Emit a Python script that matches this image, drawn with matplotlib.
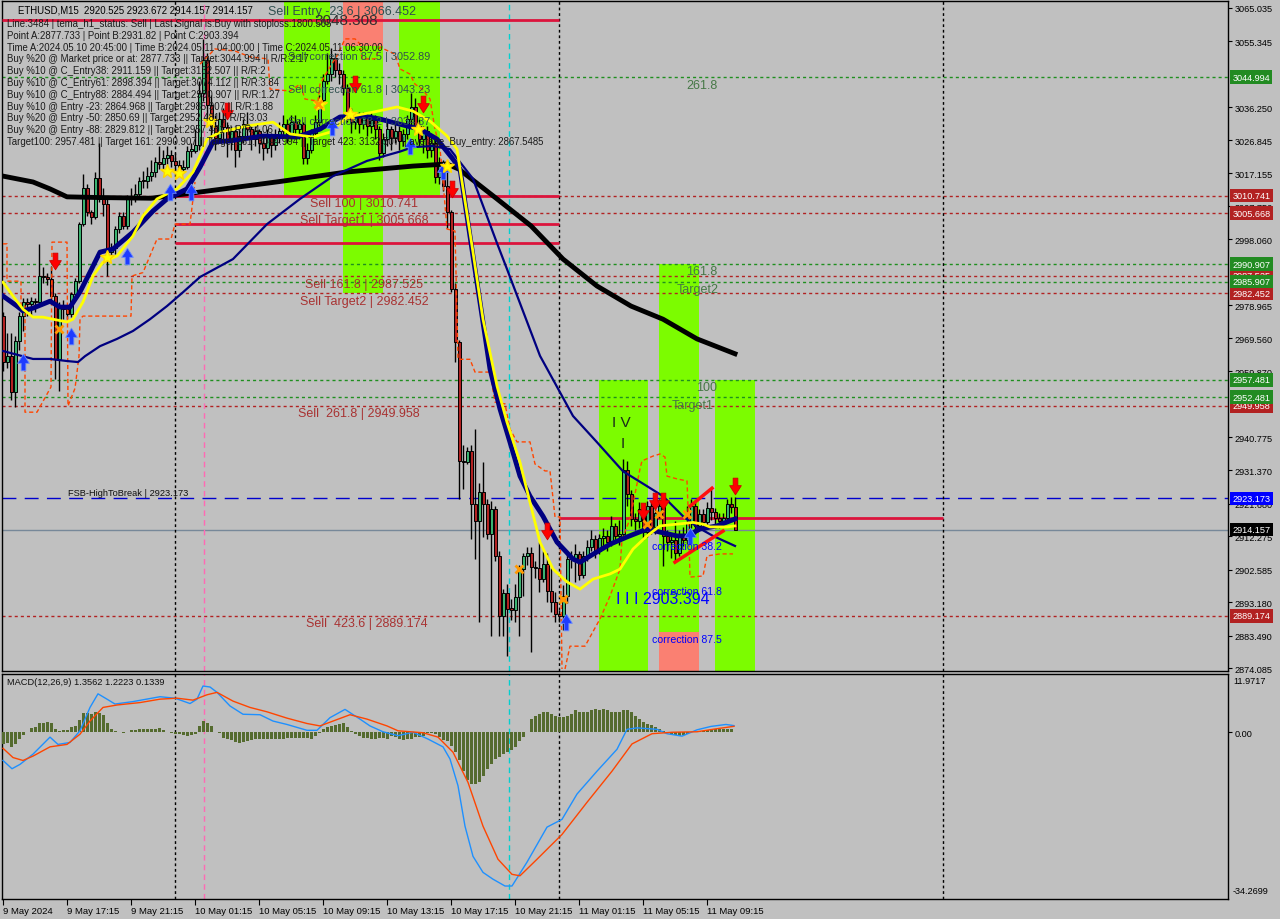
import numpy as np
import matplotlib.pyplot as plt
from matplotlib.path import Path
from matplotlib.transforms import blended_transform_factory

plt.rcParams['font.family'] = ['Liberation Sans', 'DejaVu Sans']

# ETHUSD M15 candles, bar 0 = 9 May 2024 13:15 (open of a bar = close of the one before)
first_open = 2976.0
close = [2962.5, 2964.4, 2953.8, 2968.8, 2976.0, 2979.9, 2979.5, 2980.3, 2980.0, 2987.6,
         2987.1, 2986.6, 2981.8, 2963.5, 2978.9, 2977.9, 2976.5, 2982.3, 2986.1, 3002.5,
         3013.1, 3005.9, 3004.5, 3015.8, 3009.8, 3008.3, 2994.3, 2995.5, 3001.1, 3004.9,
         3002.0, 3010.3, 3010.0, 3011.2, 3015.1, 3015.0, 3016.5, 3017.5, 3020.4, 3019.9,
         3021.5, 3022.5, 3020.9, 3019.5, 3018.5, 3019.0, 3023.8, 3023.8, 3025.5, 3040.5,
         3050.0, 3037.0, 3031.0, 3027.5, 3033.0, 3030.5, 3027.0, 3029.5, 3024.0, 3028.0,
         3031.5, 3030.0, 3027.0, 3029.5, 3026.0, 3024.5, 3028.5, 3025.5, 3027.5, 3029.5,
         3031.5, 3028.5, 3032.0, 3030.0, 3031.5, 3021.5, 3024.0, 3029.0, 3032.0, 3038.5,
         3044.0, 3046.0, 3050.5, 3047.0, 3046.0, 3042.0, 3034.5, 3032.0, 3034.0, 3031.5,
         3033.5, 3031.0, 3032.5, 3030.0, 3023.0, 3027.0, 3030.0, 3027.5, 3029.5, 3026.5,
         3028.5, 3033.0, 3036.5, 3031.0, 3027.0, 3029.5, 3024.0, 3026.0, 3016.0, 3020.0,
         3013.6, 3006.0, 2983.7, 2968.3, 2934.0, 2933.6, 2936.9, 2921.5, 2916.7, 2924.9,
         2921.5, 2912.8, 2920.1, 2906.6, 2889.2, 2895.9, 2891.1, 2891.0, 2894.5, 2902.7,
         2906.6, 2907.5, 2903.2, 2903.0, 2899.8, 2904.2, 2896.5, 2893.1, 2889.7, 2889.0,
         2895.0, 2905.6, 2905.6, 2907.0, 2901.0, 2906.6, 2909.0, 2911.4, 2908.0, 2911.8,
         2912.3, 2910.5, 2915.3, 2912.4, 2913.0, 2931.5, 2924.4, 2917.2, 2916.7, 2920.1,
         2913.3, 2921.0, 2915.0, 2919.0, 2921.0, 2912.4, 2910.5, 2911.0, 2907.5, 2912.3,
         2911.0, 2916.2, 2921.0, 2915.2, 2918.6, 2916.2, 2920.5, 2919.1, 2917.5, 2916.7,
         2917.5, 2921.5, 2920.525, 2914.157]
high = [2977, 2971, 2971, 2970, 2977, 2981, 2981, 2981.5, 2981, 2996.7,
        2990, 2988.5, 2990.5, 2982.5, 2980, 2980.5, 2978.5, 2983, 2987, 3003,
        3017, 3014, 3006.5, 3017.5, 3026, 3013, 3010, 2997, 3002, 3006,
        3006, 3011, 3013, 3014, 3016, 3018, 3019, 3021, 3022, 3025,
        3024, 3025, 3024, 3023, 3021, 3021, 3025, 3026, 3030, 3044,
        3056, 3052, 3040, 3034, 3035, 3036, 3032, 3031, 3031, 3030,
        3033, 3035, 3031, 3031, 3030, 3028, 3030, 3029, 3030, 3032,
        3034, 3033, 3034, 3034, 3033, 3032, 3026, 3030, 3034, 3040,
        3046, 3052, 3053.5, 3052, 3049, 3047, 3043, 3036, 3035, 3035,
        3035, 3035, 3035, 3034, 3031, 3029, 3032, 3031, 3032, 3031,
        3030, 3034, 3040.5, 3039, 3033, 3031, 3031, 3028, 3027, 3022,
        3021, 3018, 3006.5, 2985.5, 2969, 2938.5, 2938, 2938.5, 2943.2, 2927.5,
        2933.6, 2923, 2922.5, 2921, 2908, 2897, 2898.5, 2894, 2898.5, 2904,
        2907.5, 2909, 2909, 2905, 2910.5, 2908, 2907.5, 2903, 2896, 2891,
        2898, 2907, 2908, 2910, 2908, 2908, 2911, 2914, 2912.5, 2913,
        2914.5, 2914, 2918, 2916, 2917, 2934.5, 2934, 2925.5, 2919, 2922,
        2921, 2922.5, 2922, 2921, 2923, 2922.5, 2914, 2913, 2916.5, 2914,
        2915, 2921, 2923, 2922, 2920, 2920, 2922, 2926, 2920.5, 2919,
        2919, 2923, 2923.5, 2923.672]
low = [2960, 2961, 2951.5, 2949.5, 2966, 2971.6, 2976, 2976, 2977, 2979,
       2985.5, 2985, 2980, 2957.7, 2954.3, 2975, 2975, 2975.5, 2981, 2985.5,
       3002, 3005, 3002.5, 3004, 3009, 3005, 2987.6, 2993, 2994, 3000,
       3001, 3001, 3008, 3009, 3010, 3013, 3013, 3015, 3016, 3018.5,
       3018, 3020, 3019, 3018, 3017, 3017.5, 3018.5, 3022, 3023, 3024,
       3038, 3033, 3027, 3024, 3026, 3027, 3022, 3024, 3019, 3022,
       3026, 3027, 3024, 3025, 3023, 3021, 3023, 3022, 3024, 3026,
       3028, 3026, 3027, 3028, 3027, 3020, 3020, 3023, 3028, 3031,
       3037, 3043, 3044, 3045, 3043, 3040, 3032, 3029, 3030, 3029,
       3030, 3028, 3029, 3027, 3021, 3022, 3025, 3024, 3026, 3024,
       3025, 3027, 3031, 3029, 3025, 3023, 3021.5, 3022, 3014.5, 3014,
       3012, 3001.5, 2983, 2962.5, 2923, 2926, 2933, 2911.4, 2905.6, 2887.3,
       2912, 2911.4, 2883.4, 2905, 2883.4, 2883.4, 2877.7, 2888, 2887.3, 2883.4,
       2895, 2904, 2878.6, 2900, 2896, 2898.9, 2893.1, 2890.2, 2887.3, 2887.5,
       2885, 2893, 2903, 2899, 2899.5, 2900, 2905, 2908, 2906, 2907,
       2909, 2908, 2909.5, 2911, 2909.8, 2912, 2921, 2915.3, 2914, 2914.5,
       2911, 2912, 2913, 2913, 2917.5, 2903.7, 2908, 2906, 2905, 2906.5,
       2909.5, 2910, 2914.5, 2913, 2914, 2914.5, 2915.5, 2917, 2915.8, 2914.5,
       2915, 2916.5, 2919, 2914.157]

# moving averages: bar index / price
yellow_x = [0, 2.5, 5, 7.5, 10, 12.5, 16, 17.5, 20, 22.5, 25, 28.5, 32.5, 35, 38.5, 43.5, 47.5, 51,
            54.25, 61, 67.5, 71.75, 77.5, 81.75, 86, 92.5, 98.5, 102.5, 106.75, 111, 113.5, 114.25,
            117.5, 120, 123.5, 126, 129.25, 131.75, 134.25, 137.5, 141, 144.25, 147.5, 151.75,
            154.25, 157.5, 161, 164.25, 168.5, 172.5, 175, 176.75, 181, 183]
yellow_y = [2985.7, 2981.7, 2977.9, 2975.6, 2975.6, 2975.0, 2974.2, 2975.0, 2980.0, 2987.5, 2991.5,
            2993.3, 2999.1, 3004.9, 3009.8, 3012.7, 3017.6, 3027.1, 3029.1, 3030.9, 3032.0, 3028.6,
            3027.7, 3029.1, 3033.5, 3034.9, 3036.4, 3035.2, 3032.3, 3028.0, 3024.2, 3018.5, 2994.4,
            2975.0, 2955.7, 2945.2, 2933.6, 2922.0, 2910.5, 2902.7, 2899.0, 2896.9, 2899.8, 2901.3,
            2902.7, 2908.5, 2912.3, 2915.2, 2915.7, 2916.2, 2915.7, 2914.9, 2914.9, 2915.2]
navy_x = [0, 3.5, 5, 7.5, 11.75, 14.25, 16.75, 19.25, 21.75, 24.25, 27.5, 32.5, 37.5, 41, 46, 49.25,
          52.5, 56.75, 65, 73.5, 79.25, 84.25, 90, 94.25, 101, 104.25, 108.5, 112.5, 114.25, 116.75,
          119.25, 121.75, 124.25, 126.75, 129.25, 131.75, 135, 138.5, 142.5, 144.25, 147.5, 151.75,
          156, 161, 164.25, 168.5, 171, 174.25, 178.5, 183]
navy_y = [2981.7, 2978.8, 2977.4, 2978.2, 2980.2, 2978.5, 2978.5, 2982.9, 2988.6, 2994.4, 2995.3,
          3000.2, 3006.3, 3009.8, 3012.7, 3019.0, 3026.3, 3026.6, 3028.0, 3027.7, 3030.0, 3033.5,
          3033.8, 3032.9, 3030.9, 3030.0, 3027.1, 3021.3, 3018.5, 2999.0, 2979.9, 2960.6, 2949.0,
          2939.4, 2929.6, 2923.8, 2918.0, 2910.5, 2905.6, 2904.7, 2907.0, 2909.9, 2912.0, 2914.3,
          2913.4, 2912.3, 2912.3, 2914.3, 2915.2, 2917.2]
slow_x = [0, 7.5, 11.75, 16, 18.75, 20.5, 24.25, 28.5, 32.5, 36.75, 41, 45, 49.25, 57.5, 66, 74.25,
          82.5, 91, 99.25, 102.5, 107.5, 111.75, 117.5, 123.5, 126, 134.25, 142.5, 148.5, 155, 161,
          165, 170, 173.5, 177.5, 183]
slow_y = [2965.8, 2963.5, 2963.5, 2962.9, 2962.6, 2964.3, 2967.2, 2969.3, 2971.6, 2975.0, 2978.8,
          2982.8, 2987.2, 2992.4, 3002.5, 3009.8, 3016.4, 3020.8, 3023.5, 3024.8, 3025.1, 3024.2,
          3015.6, 2997.0, 2989.5, 2964.4, 2947.0, 2939.4, 2931.0, 2926.7, 2923.8, 2918.0, 2914.9,
          2912.3, 2909.4]
ma200_x = [0, 7.5, 11.75, 16, 24, 37, 44, 69, 86, 102.5, 111, 114, 123.5, 132, 140, 148.5, 157, 165,
           173.5, 183]
ma200_y = [3016.4, 3014.7, 3012.7, 3010.4, 3010.2, 3010.0, 3011.0, 3014.8, 3017.6, 3019.3, 3019.9,
           3018.4, 3009.8, 3002.0, 2992.4, 2984.6, 2978.8, 2975.0, 2969.3, 2965.0]

# trailing band (orange dashed)
band1_x = [0, 1, 1, 4.5, 4.5, 5.5, 5.5, 8.5, 12, 12.25, 16, 16.25, 18, 19, 19.25, 20, 32, 32.25, 35,
           38.5, 42, 43, 46.75, 48]
band1_y = [2996.8, 2996.8, 2986.0, 2986.0, 2978.8, 2978.8, 2948.1, 2948.1, 2955.4, 2997.3, 2997.3,
           2949.9, 2955.0, 2964.3, 2975.0, 2975.9, 2975.9, 2987.5, 2988.5, 2998.2, 2998.2, 3002.5,
           3002.5, 3014.7]
band2_x = [49.25, 53, 58, 61.75, 66.25, 66.75, 71.75, 74.25, 75.5, 78.75, 79.25, 81.75, 83.75, 85.5,
           88, 89.25, 89.75, 93, 94.25, 98, 99.25, 101.75, 103, 104.75, 106.75, 108, 109.25, 109.75,
           111, 113, 113.75, 116.75, 118, 121.75, 123, 125.5, 126.75, 128.5, 131.75, 133, 135.5,
           136.75, 137.25, 138, 139.25, 139.75]
band2_y = [3048.8, 3053.2, 3052.6, 3050.9, 3050.3, 3041.6, 3041.0, 3043.0, 3038.7, 3038.1, 3043.0,
           3048.0, 3051.7, 3056.1, 3056.1, 3054.6, 3050.3, 3050.3, 3053.7, 3051.7, 3047.4, 3045.9,
           3043.0, 3041.6, 3038.7, 3030.0, 3024.2, 3018.5, 3001.1, 3000.5, 2963.4, 2963.4, 2959.7,
           2959.7, 2951.0, 2950.5, 2943.2, 2939.5, 2939.5, 2933.1, 2931.1, 2931.1, 2925.9, 2917.8,
           2917.8, 2873.8]
band3_x = [140.5, 141.75, 145.5, 149.25, 151.75, 154.25, 154.75, 156.75, 159.25, 159.75, 162.5,
           164.25, 165.5, 166, 168.5, 171, 171.25, 171.75, 175, 176, 179.25, 182.5]
band3_y = [2873.8, 2880.4, 2880.4, 2888.3, 2894.9, 2902.7, 2911.4, 2917.2, 2931.7, 2934.0, 2935.4,
           2936.0, 2935.1, 2929.6, 2928.8, 2928.2, 2920.9, 2900.4, 2900.7, 2906.5, 2907.1, 2907.1]

# MACD(12,26,9)
macd_x = [0, 2.25, 4.25, 7.5, 11.75, 13.75, 16.75, 19.25, 21.75, 23.75, 26, 28, 32.5, 39.25, 43,
          46.75, 48.5, 50, 51.75, 53.5, 56.75, 60, 64.25, 67.5, 71, 76, 78.5, 81.75, 85.5, 89.25,
          91.75, 95, 98.75, 102.5, 106.25, 110, 111.75, 113.75, 115.5, 117.5, 120, 122.5, 125.5,
          127.25, 131, 136, 139.75, 143.5, 148.5, 153.5, 156, 158.5, 163.5, 166, 169.75, 173.5,
          177, 180.75, 182.75]
macd_y = [-5.8, -7.5, -6.6, -4.5, -1.0, -2.5, -2.1, 0.3, 5.1, 7.9, 6.8, 5.8, 6.3, 7.3, 7.0, 5.9, 6.8,
          9.5, 9.3, 8.2, 5.4, 3.7, 3.6, 2.3, 1.6, 0.4, 0.4, 3.0, 4.7, 2.7, 1.3, 0.1, -0.7, 0.0, -1.4,
          -3.0, -5.5, -11.0, -19.3, -25.5, -28.8, -30.2, -31.6, -31.6, -26.7, -19.5, -17.9, -12.7,
          -8.0, -3.5, 0.6, 0.9, 0.6, -0.3, -0.8, 0.5, 1.2, 1.6, 1.36]
signal_x = [0, 2.5, 5, 7.5, 11.75, 16, 19.25, 21.75, 25, 28.5, 34.25, 39.25, 43.5, 47.5, 51, 53.5,
            57.5, 61.75, 66, 71, 76, 79.25, 82.5, 86.75, 91, 96, 98.75, 105, 108.75, 112.5, 116.25,
            120, 123.75, 127.25, 129.25, 133.5, 139.75, 146, 152.25, 157.25, 162.25, 167.25, 173.5,
            178.25, 182.75]
signal_y = [-3.3, -5.2, -5.8, -4.9, -3.0, -2.5, -0.4, 2.3, 5.1, 5.6, 6.1, 6.8, 7.0, 6.6, 7.7, 8.2,
            6.4, 5.1, 4.2, 2.9, 1.8, 1.3, 2.3, 3.6, 2.7, 1.3, 0.3, -0.1, -1.0, -4.1, -10.3, -19.3,
            -26.1, -29.2, -29.5, -26.1, -21.0, -14.4, -8.0, -2.4, -0.3, 0.0, 0.1, 0.7, 1.22]
hist = [-2.5, -2.3, -3.0, -2.5, -1.4, -0.6, 0.1, 0.8, 1.0, 1.8,
        2.0, 2.1, 2.0, 0.6, 0.3, 0.4, 0.4, 1.0, 1.3, 2.5,
        4.0, 3.9, 3.7, 4.2, 4.0, 3.6, 1.8, 0.6, 0.3, 0.1,
        -0.1, 0.1, 0.4, 0.5, 0.6, 0.6, 0.6, 0.6, 0.6, 0.8,
        0.4, 0.1, -0.1, -0.3, -0.4, -0.6, -0.8, -0.6, -0.4, 1.3,
        2.3, 1.8, 1.2, 0.1, -0.1, -1.1, -1.4, -1.6, -2.0, -2.3,
        -2.1, -1.8, -1.5, -1.4, -1.4, -1.4, -1.4, -1.4, -1.4, -1.4,
        -1.3, -1.1, -1.1, -1.1, -1.1, -1.1, -1.2, -1.4, -0.8, -0.2,
        0.6, 1.1, 1.3, 1.5, 1.6, 1.8, 1.1, 0.3, -0.4, -0.8,
        -1.1, -1.2, -1.4, -1.4, -1.2, -1.1, -1.4, -0.7, -1.0, -1.4,
        -1.5, -1.4, -1.4, -1.0, -1.0, -0.7, -0.1, -0.1, -0.3, -1.0,
        -1.5, -1.9, -2.9, -4.1, -5.8, -7.9, -9.9, -10.6, -10.6, -10.3,
        -9.0, -7.5, -6.5, -5.5, -5.1, -4.5, -4.0, -3.6, -3.1, -1.9,
        -1.0, 0.1, 2.7, 3.4, 3.8, 4.1, 4.1, 3.8, 3.4, 3.1,
        3.1, 3.4, 3.8, 4.5, 4.2, 4.1, 4.2, 4.5, 4.7, 4.5,
        4.8, 4.5, 4.1, 4.1, 4.2, 4.5, 4.5, 4.1, 3.4, 2.7,
        2.1, 1.7, 1.5, 1.0, 0.7, 0.3, 0.0, -0.3, -0.5, -0.7,
        -0.5, -0.3, 0.0, 0.1, 0.3, 0.3, 0.5, 0.7, 0.7, 0.7,
        0.7, 0.7, 0.7, 0.13]

green_levels = [3044.994, 2990.907, 2985.907, 2957.481, 2952.481]
red_levels = [3010.741, 3005.668, 2987.525, 2982.452, 2949.958, 2889.174]
fsb_level = 2923.173
last_price = 2914.157
price_ticks = [3065.035, 3055.345, 3036.250, 3026.845, 3017.155, 3007.750, 2998.060,
               2978.965, 2969.560, 2959.870, 2940.775, 2931.370, 2921.680,
               2912.275, 2902.585, 2893.180, 2883.490, 2874.085]
time_labels = ['9 May 2024', '9 May 17:15', '9 May 21:15', '10 May 01:15', '10 May 05:15',
               '10 May 09:15', '10 May 13:15', '10 May 17:15', '10 May 21:15', '11 May 01:15',
               '11 May 05:15', '11 May 09:15']

red_arrows = [(13, 2991.8), (56, 3035.2), (88, 3043.0), (105, 3037.3), (112.25, 3012.7),
              (136, 2913.7), (160, 2919.5), (163, 2922.4), (165, 2922.4), (183, 2926.7)]
blue_arrows = [(5, 2962.6), (17, 2970.1), (31, 2993.3), (41.75, 3011.8), (47, 3011.8),
               (82.25, 3030.6), (101.75, 3025.1), (110, 3017.9), (140.75, 2887.4), (171.75, 2912.3)]
stars = [(26, 2993.0), (41, 3017.9), (44, 3017.3), (51.75, 3032.3), (79.25, 3037.3),
         (86.75, 3034.4), (103.75, 3030.0), (111, 3019.3)]
crosses = [(14, 2972.2), (78.75, 3037.3), (129, 2902.7), (140, 2894.0), (161, 2915.7),
           (164, 2918.6), (171, 2918.6)]

info_lines = [
    "Line:3484 | tema_h1_status: Sell | Last Signal is:Buy with stoploss:1800.505",
    "Point A:2877.733 | Point B:2931.82 | Point C:2903.394",
    "Time A:2024.05.10 20:45:00 | Time B:2024.05.11 04:00:00 | Time C:2024.05.11 06:30:00",
    "Buy %20 @ Market price or at: 2877.733 || Target:3044.994 || R/R:2.17",
    "Buy %10 @ C_Entry38: 2911.159 || Target:3132.507 || R/R:2",
    "Buy %10 @ C_Entry61: 2898.394 || Target:3074.112 || R/R:3.84",
    "Buy %10 @ C_Entry88: 2884.494 || Target:2990.907 || R/R:1.27",
    "Buy %10 @ Entry -23: 2864.968 || Target:2985.907 || R/R:1.88",
    "Buy %20 @ Entry -50: 2850.69 || Target:2952.481 || R/R:3.03",
    "Buy %20 @ Entry -88: 2829.812 || Target:2957.481 || R/R:4.06",
    "Target100: 2957.481 || Target 161: 2990.907 || Target 261: 3044.994 || Target 423: 3132.507 || average_Buy_entry: 2867.5485",
]

# ---------------------------------------------------------------------------
W, H = 1280, 920
BG = '#c0c0c0'
LIME = '#7cfc00'
SALMON = '#fa8072'
TOP, BOTTOM = 3067.06, 2873.22
XL = (-0.25, 306.25)

fig = plt.figure(figsize=(12.8, 9.2), dpi=100, facecolor=BG)


def box(x0, y0, x1, y1):
    return [x0 / W, 1 - y1 / H, (x1 - x0) / W, (y1 - y0) / H]


def put(x, y, s, **kw):
    kw.setdefault('va', 'center')
    kw.setdefault('ha', 'left')
    fig.text(x / W, 1 - y / H, s, **kw)


ax = fig.add_axes(box(2, 2, 1228, 672))
axm = fig.add_axes(box(2, 675, 1228, 900))
for a in (ax, axm):
    a.set_facecolor(BG)
    a.set_xlim(*XL)
    for sp in a.spines.values():
        sp.set_color('black')
        sp.set_linewidth(1)
ax.set_ylim(BOTTOM, TOP)
axm.set_ylim(-34.2699, 11.9717)

# zones
zones = [(70.25, 81.75, 3010.741, TOP, LIME), (85, 95, 3054.0, TOP, SALMON),
         (85, 95, 2982.452, 3054.0, LIME), (99, 109.25, 3010.741, TOP, LIME),
         (149, 161.25, BOTTOM, 2957.481, LIME), (164, 174, 2884.5, 2990.907, LIME),
         (164, 174, BOTTOM, 2884.5, SALMON), (178, 188, BOTTOM, 2957.481, LIME)]
for x0, x1, y0, y1, c in zones:
    ax.fill_between([x0, x1], y0, y1, color=c, lw=0, zorder=1)

# horizontal levels
dots = (0, (2.2, 2.2))
for lv in green_levels:
    ax.axhline(lv, color='#1f8f1f', lw=1, ls=dots, zorder=2)
for lv in red_levels:
    ax.axhline(lv, color='#b22222', lw=1, ls=dots, zorder=2)
ax.axhline(fsb_level, color='#0000cd', lw=1, ls=(0, (10, 6)), zorder=2)
ax.axhline(last_price, color='#778899', lw=1, zorder=2)

# day separators and markers
for a in (ax, axm):
    for d in (43, 139, 235):
        a.axvline(d, color='black', lw=1, ls=(0, (2, 2)), zorder=2)
    a.axvline(50.25, color='#ff69b4', lw=1, ls=(0, (4, 3)), zorder=2)
    a.axvline(126.5, color='#00d0d0', lw=1, ls=(0, (4, 3)), zorder=2)

# solid sell-level segments
for x0, x1, y in [(-0.25, 139, 3061.5), (43, 139, 3010.741), (43, 139, 3002.5),
                  (43, 139, 2997.1), (139, 235, 2917.5)]:
    ax.plot([x0, x1], [y, y], color='#dc143c', lw=2, zorder=3, solid_capstyle='butt')

# candles
idx = np.arange(len(close))
c = np.array(close)
o = np.array([first_open] + close[:-1])
up = c >= o
ax.vlines(idx, low, high, color='black', lw=1, zorder=4)
blo = np.minimum(o, c)
bh = np.maximum(np.abs(c - o), 0.35)
ax.bar(idx[up], bh[up], bottom=blo[up], width=0.75, color='#3cb371', edgecolor='black',
       lw=0.7, zorder=5)
ax.bar(idx[~up], bh[~up], bottom=blo[~up], width=0.75, color='#b22222', edgecolor='black',
       lw=0.7, zorder=5)

# bands and moving averages
for bx, by in [(band1_x, band1_y), (band2_x, band2_y), (band3_x, band3_y)]:
    ax.plot(bx, by, color='#ff4500', lw=1, ls=(0, (3, 2)), zorder=6)
ax.plot(ma200_x, ma200_y, color='black', lw=3.5, zorder=7)
ax.plot(slow_x, slow_y, color='#000080', lw=1.6, zorder=7)
ax.plot(navy_x, navy_y, color='#000080', lw=3.5, zorder=7)
ax.plot(yellow_x, yellow_y, color='#ffff00', lw=2, zorder=8)

# wedge lines
ax.plot([171.75, 177.25], [2920.9, 2926.1], color='#ff1010', lw=2.5, zorder=9)
ax.plot([168, 180], [2904.7, 2913.7], color='#ff1010', lw=2.5, zorder=9)

# signal markers
down = Path([(-0.28, 1), (0.28, 1), (0.28, 0.1), (0.7, 0.1), (0, -1), (-0.7, 0.1),
             (-0.28, 0.1), (-0.28, 1)], closed=True)
upm = Path([(x, -y) for x, y in down.vertices], closed=True)
ax.plot(*zip(*red_arrows), ls='none', marker=down, ms=12, mfc='#ff0000', mec='#d00000',
        mew=0.6, zorder=10)
ax.plot(*zip(*blue_arrows), ls='none', marker=upm, ms=12, mfc='#1e3cff', mec='#6a8cff',
        mew=0.6, zorder=10)
ax.plot(*zip(*stars), ls='none', marker='*', ms=10, mfc='#ffff00', mec='#ffd700', zorder=10)
ax.plot(*zip(*crosses), ls='none', marker='x', ms=6, mec='#ff9900', mew=2, zorder=10)

# price axis
ax.yaxis.tick_right()
ax.set_yticks(price_ticks)
ax.set_yticklabels([f'{v:.3f}' for v in price_ticks], fontsize=6.6)
ax.tick_params(axis='y', direction='out', length=3, width=0.8, pad=2)
ax.tick_params(axis='x', bottom=False, labelbottom=False)

tr = blended_transform_factory(ax.transAxes, ax.transData)
lab_x = 1 + 4.5 / 1226
for lv in red_levels:
    ax.text(lab_x, lv, f'{lv:.3f}', transform=tr, fontsize=6.6, color='white', va='center',
            ha='left', clip_on=False, zorder=20,
            bbox=dict(boxstyle='square,pad=0.25', fc='#b22222', ec='none'))
for lv in green_levels:
    ax.text(lab_x, lv, f'{lv:.3f}', transform=tr, fontsize=6.6, color='white', va='center',
            ha='left', clip_on=False, zorder=21,
            bbox=dict(boxstyle='square,pad=0.25', fc='#228b22', ec='none'))
for lv, fc in [(fsb_level, '#0000ff'), (last_price, 'black')]:
    ax.text(lab_x, lv, f'{lv:.3f}', transform=tr, fontsize=6.6, color='white', va='center',
            ha='left', clip_on=False, zorder=22,
            bbox=dict(boxstyle='square,pad=0.25', fc=fc, ec='none'))

# MACD panel
axm.bar(idx, hist, width=0.75, color='#556b2f', zorder=3)
axm.plot(macd_x, macd_y, color='#1e90ff', lw=1, zorder=4)
axm.plot(signal_x, signal_y, color='#ff4500', lw=1, zorder=4)
axm.yaxis.tick_right()
axm.set_yticks([0])
axm.set_yticklabels(['0.00'], fontsize=6.6)
axm.tick_params(axis='y', direction='out', length=3, width=0.8, pad=2)
axm.set_xticks(np.arange(0, 177, 16))
axm.set_xticklabels(time_labels, fontsize=6.8, ha='left')
axm.tick_params(axis='x', direction='out', length=4, width=0.8, pad=1)
put(1233, 682, '11.9717', fontsize=6.6)
put(1233, 892, '-34.2699', fontsize=6.6)
put(7, 683, 'MACD(12,26,9) 1.3562 1.2223 0.1339', fontsize=6.7, color='#101010')

# info block
put(18, 10.5, 'ETHUSD,M15  2920.525 2923.672 2914.157 2914.157', fontsize=6.9, color='black')
for k, s in enumerate(info_lines):
    put(7, 24 + 11.8 * k, s, fontsize=6.9, color='#1a1a1a')

# chart labels
slate = '#2f4f4f'
put(268, 12, 'Sell Entry -23.6 | 3066.452', fontsize=9, color=slate)
put(314, 21, '3048.308', fontsize=11, color='#303030')
put(288, 57, 'Sell correction 87.5 | 3052.89', fontsize=7.8, color=slate)
put(288, 90, 'Sell correction 61.8 | 3043.23', fontsize=7.8, color=slate)
put(288, 122, 'Sell correction 38.2 | 3034.37', fontsize=7.8, color=slate)
brown = '#a83232'
put(310, 204, 'Sell 100 | 3010.741', fontsize=9, color=brown)
put(300, 221, 'Sell Target1 | 3005.668', fontsize=9, color=brown)
put(305, 285, 'Sell 161.8 | 2987.525', fontsize=9, color=brown)
put(300, 302, 'Sell Target2 | 2982.452', fontsize=9, color=brown)
put(298, 414, 'Sell  261.8 | 2949.958', fontsize=9, color=brown)
put(306, 624, 'Sell  423.6 | 2889.174', fontsize=9, color=brown)
fib = '#467846'
put(686, 86, '261.8', fontsize=9, color=fib)
put(686, 272, '161.8', fontsize=9, color=fib)
put(677, 290, 'Target2', fontsize=9, color=fib)
put(696, 388, '100', fontsize=9, color=fib)
put(672, 406, 'Target1', fontsize=9, color=fib)
put(612, 423, 'I V', fontsize=11, color='#1a2a1a')
put(621, 444, 'I', fontsize=11, color='#1a2a1a')
put(616, 600, 'I I I 2903.394', fontsize=11.5, color='#0000ff')
put(652, 547, 'correction 38.2', fontsize=7.6, color='#0000ff')
put(652, 592, 'correction 61.8', fontsize=7.6, color='#0000ff')
put(652, 640, 'correction 87.5', fontsize=7.6, color='#0000ff')
put(68, 494, 'FSB-HighToBreak | 2923.173', fontsize=6.7, color='#101010')

fig.savefig('out.png', dpi=100, facecolor=BG)
